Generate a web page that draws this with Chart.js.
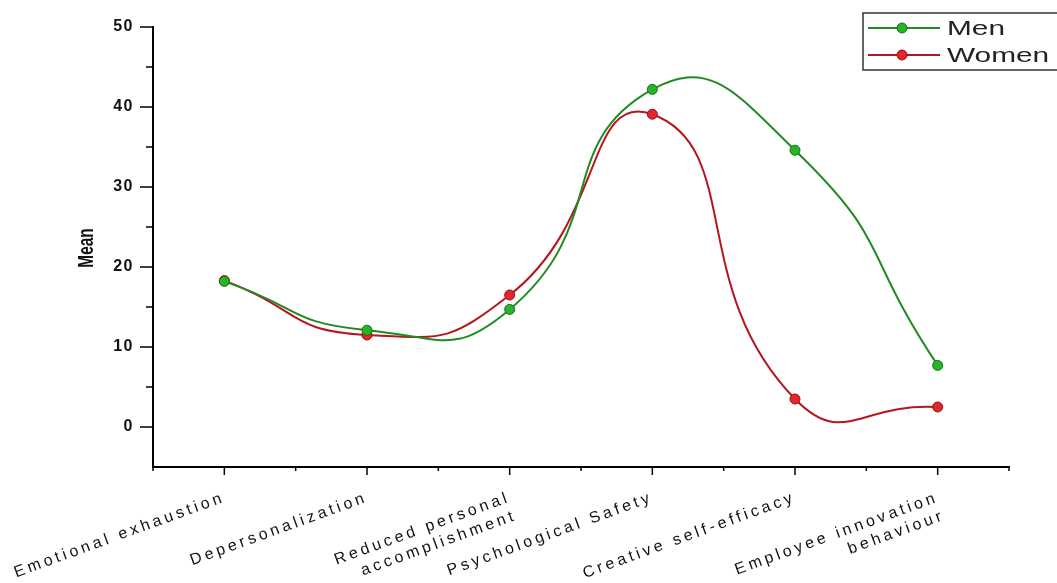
<!DOCTYPE html>
<html>
<head>
<meta charset="utf-8">
<script src="https://cdn.jsdelivr.net/npm/chart.js@4.4.0/dist/chart.umd.min.js"></script>
<style>
  html, body { margin: 0; padding: 0; background: #fff; }
  #wrap { width: 1057px; height: 583px; }
</style>
</head>
<body>
<div id="wrap"><canvas id="chart" width="1057" height="583"></canvas></div>
<script>
const categories = [
  'Emotional exhaustion',
  'Depersonalization',
  ['Reduced personal', 'accomplishment'],
  'Psychological Safety',
  'Creative self-efficacy',
  ['Employee innovation', 'behaviour']
];
const menMeans = [18.2, 12.1, 14.7, 42.2, 34.6, 7.7];
const womenMeans = [18.3, 11.5, 16.5, 39.1, 3.5, 2.5];
const yTickLabels = [0, 10, 20, 30, 40, 50];

const GREEN = '#218a21';
const GREEN_DOT = '#27b527';
const RED = '#b3161c';
const RED_DOT = '#e3262b';

const toPoints = (vals) => vals.map((v, i) => ({ x: i, y: v }));

// the reference text is widely spaced, so letterSpacing is set per layer:
// y labels are drawn before the datasets, x labels (ticks.z = 1) after them
const decor = {
  id: 'decor',
  beforeDraw(chart) {
    chart.ctx.letterSpacing = '1.5px';
  },
  afterDatasetsDraw(chart) {
    chart.ctx.letterSpacing = '3.5px';
  },
  afterDraw(chart) {
    const ctx = chart.ctx;
    const xs = chart.scales.x;
    const ys = chart.scales.y;
    ctx.letterSpacing = '0px';
    ctx.save();
    ctx.strokeStyle = '#000';
    ctx.lineWidth = 1.5;

    // tick marks, long on labelled values, short between
    xs.ticks.forEach((t) => {
      const px = xs.getPixelForValue(t.value);
      const len = Number.isInteger(t.value) ? 8 : 4;
      ctx.beginPath();
      ctx.moveTo(px, xs.top);
      ctx.lineTo(px, xs.top + len);
      ctx.stroke();
    });
    ys.ticks.forEach((t) => {
      if (t.value < 0) return;
      const py = ys.getPixelForValue(t.value);
      const len = yTickLabels.includes(t.value) ? 13 : 7;
      ctx.beginPath();
      ctx.moveTo(ys.right - len, py);
      ctx.lineTo(ys.right, py);
      ctx.stroke();
    });

    // y title, condensed like the reference
    ctx.save();
    ctx.translate(87, 248);
    ctx.rotate(-Math.PI / 2);
    ctx.scale(0.7, 1);
    ctx.font = 'bold 22px "Liberation Sans", Arial';
    ctx.fillStyle = '#111';
    ctx.textAlign = 'center';
    ctx.textBaseline = 'middle';
    ctx.fillText('Mean', 0, 0);
    ctx.restore();

    // legend box
    ctx.lineWidth = 1.5;
    ctx.strokeStyle = '#333';
    ctx.strokeRect(863, 13, 200, 57);
    chart.data.datasets.forEach((ds, i) => {
      const ly = 28 + i * 27;
      ctx.strokeStyle = ds.borderColor;
      ctx.lineWidth = 2;
      ctx.beginPath();
      ctx.moveTo(868, ly);
      ctx.lineTo(940, ly);
      ctx.stroke();
      ctx.beginPath();
      ctx.arc(902, ly, 5, 0, Math.PI * 2);
      ctx.fillStyle = ds.pointBackgroundColor;
      ctx.fill();
      ctx.strokeStyle = ds.pointBorderColor;
      ctx.lineWidth = 1;
      ctx.stroke();

      // legend text, stretched wide like the reference
      ctx.save();
      ctx.translate(947, ly + 1);
      ctx.scale(1.42, 1);
      ctx.font = '21px "Liberation Sans", Arial';
      ctx.textBaseline = 'middle';
      ctx.textAlign = 'left';
      ctx.fillStyle = '#222';
      ctx.fillText(ds.label, 0, 0);
      ctx.restore();
    });
    ctx.restore();
  }
};

new Chart(document.getElementById('chart'), {
  type: 'line',
  data: {
    datasets: [
      {
        label: 'Men',
        data: toPoints(menMeans),
        borderColor: GREEN,
        borderWidth: 2,
        pointBackgroundColor: GREEN_DOT,
        pointBorderColor: '#1a6e1a',
        pointBorderWidth: 1,
        pointRadius: 5,
        tension: 0.55,
        fill: false
      },
      {
        label: 'Women',
        data: toPoints(womenMeans),
        borderColor: RED,
        borderWidth: 2,
        pointBackgroundColor: RED_DOT,
        pointBorderColor: '#8e1015',
        pointBorderWidth: 1,
        pointRadius: 5,
        tension: 0.55,
        fill: false
      }
    ]
  },
  options: {
    responsive: false,
    animation: false,
    devicePixelRatio: 1,
    layout: { padding: { left: 0, top: 27, right: 48, bottom: 0 } },
    plugins: {
      legend: { display: false },
      tooltip: { enabled: false }
    },
    scales: {
      x: {
        type: 'linear',
        min: -0.5,
        max: 5.5,
        afterFit: (scale) => { scale.height = 116; },
        border: { display: true, color: '#000', width: 2 },
        grid: { drawOnChartArea: false, drawTicks: true, tickLength: 7, tickColor: 'rgba(0,0,0,0)' },
        ticks: {
          z: 1,
          stepSize: 0.5,
          autoSkip: false,
          minRotation: 20,
          maxRotation: 20,
          padding: 14,
          color: '#111',
          font: { size: 16, family: '"Liberation Sans", Arial' },
          callback: (v) => (Number.isInteger(v) && categories[v] !== undefined ? categories[v] : '')
        }
      },
      y: {
        min: -5,
        max: 50,
        afterFit: (scale) => { scale.width = 153; },
        border: { display: true, color: '#000', width: 2 },
        grid: { drawOnChartArea: false, drawTicks: true, tickLength: 13, tickColor: 'rgba(0,0,0,0)' },
        ticks: {
          stepSize: 5,
          padding: 6,
          color: '#111',
          font: { size: 16, weight: 'bold', family: '"Liberation Sans", Arial' },
          callback: (v) => (yTickLabels.includes(v) ? String(v) : '')
        }
      }
    }
  },
  plugins: [decor]
});
</script>
</body>
</html>
